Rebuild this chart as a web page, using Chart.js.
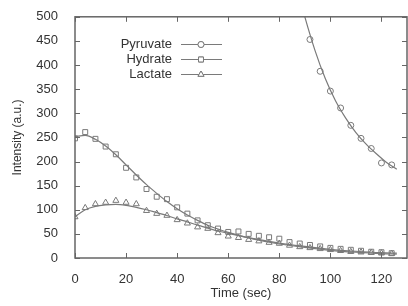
<!DOCTYPE html>
<html>
<head>
<meta charset="utf-8">
<script src="https://cdn.jsdelivr.net/npm/chart.js@4.4.1/dist/chart.umd.min.js"></script>
<style>
  html, body { margin: 0; padding: 0; background: #fff; overflow: hidden; }
  #wrap { width: 412px; height: 306px; position: relative; }
</style>
</head>
<body>
<div id="wrap"><canvas id="chart"></canvas></div>
<script>
// sample times (sec)
const times = [0, 4, 8, 12, 16, 20, 24, 28, 32, 36, 40, 44, 48, 52, 56, 60,
               64, 68, 72, 76, 80, 84, 88, 92, 96, 100, 104, 108, 112, 116, 120, 124];

// measured intensities
const hydrate = [248, 261, 247, 231, 215, 187, 167, 143, 127, 122, 105, 92, 78, 68, 61, 54,
                 55, 50, 46, 43, 40, 33, 30, 27, 24, 21, 19, 17, 15, 13, 12, 10];
const lactate = [85, 104, 112, 115, 119, 115, 112, 98, 92, 88, 79, 72, 64, 61, 52, 45,
                 42, 38, 35, 32, 30, 26, 23, 21, 19, 17, 15, 13, 12, 11, 10, 9];
const pyruvateTimes = [92, 96, 100, 104, 108, 112, 116, 120, 124];
const pyruvate = [453, 387, 346, 311, 275, 248, 227, 197, 193];

// fitted curves
const fitTimes = [0, 4, 8, 12, 16, 20, 24, 28, 32, 36, 40, 44, 48, 52, 56, 60,
                  70, 80, 90, 100, 110, 120, 126];
const hydrateFit = [252, 254, 246, 232, 214, 193, 172, 152, 134, 117, 102, 89, 78, 68, 60, 53,
                    39, 29, 22, 16, 12, 9, 8];
const lactateFit = [86, 100, 107, 110, 111, 109, 105, 100, 94, 88, 81, 75, 68, 62, 56, 51,
                    40, 31, 24, 18, 14, 11, 10];
const pyruvateFitTimes = [88, 90, 94, 98, 102, 106, 110, 114, 118, 122, 126];
const pyruvateFit = [540, 500, 430, 372, 326, 290, 260, 236, 216, 198, 184];

const yTicks = [0, 50, 100, 150, 200, 250, 300, 350, 400, 450, 500];
const xTicks = [0, 20, 40, 60, 80, 100, 120];

const seriesNames = ['Pyruvate', 'Hydrate', 'Lactate'];

const gray = '#7a7a7a';
const axisColor = '#666';
const textColor = '#333';
const fontFamily = '"Liberation Sans", Arial, Helvetica, sans-serif';

const pts = (xs, ys) => xs.map((x, i) => ({ x: x, y: ys[i] }));

// gnuplot-like frame with inward ticks on all four sides
const framePlugin = {
  id: 'frame',
  afterDatasetsDraw(chart) {
    const { ctx, chartArea: a, scales } = chart;
    ctx.save();
    ctx.strokeStyle = axisColor;
    ctx.lineWidth = 1;
    ctx.beginPath();
    xTicks.forEach(v => {
      const x = Math.round(scales.x.getPixelForValue(v)) + 0.5;
      ctx.moveTo(x, a.bottom); ctx.lineTo(x, a.bottom - 5);
      ctx.moveTo(x, a.top); ctx.lineTo(x, a.top + 5);
    });
    yTicks.forEach(v => {
      const y = Math.round(scales.y.getPixelForValue(v)) + 0.5;
      ctx.moveTo(a.left, y); ctx.lineTo(a.left + 5, y);
      ctx.moveTo(a.right, y); ctx.lineTo(a.right - 5, y);
    });
    ctx.stroke();
    ctx.lineWidth = 1.5;
    ctx.strokeRect(a.left, a.top, a.right - a.left, a.bottom - a.top);
    ctx.restore();
  }
};

// key in the top left: label, then line sample with marker
const keyPlugin = {
  id: 'key',
  afterDraw(chart) {
    const ctx = chart.ctx;
    ctx.save();
    ctx.font = '13px ' + fontFamily;
    ctx.fillStyle = textColor;
    ctx.textAlign = 'right';
    ctx.textBaseline = 'middle';
    const styles = ['circle', 'rect', 'triangle'];
    const radii = [3, 3.5, 3.5];
    seriesNames.forEach((name, i) => {
      const y = 44.5 + i * 15;
      ctx.fillText(name, 172, y);
      ctx.strokeStyle = gray;
      ctx.lineWidth = 1;
      ctx.beginPath();
      ctx.moveTo(181, y); ctx.lineTo(222, y);
      ctx.stroke();
      ctx.fillStyle = '#fff';
      Chart.helpers.drawPoint(ctx, {
        pointStyle: styles[i], radius: radii[i], borderWidth: 1, rotation: 0
      }, 201, y);
      ctx.fill();
      ctx.stroke();
      ctx.fillStyle = textColor;
    });
    ctx.restore();
  }
};

const markerSet = (label, data, style, r) => ({
  label: label,
  data: data,
  showLine: false,
  pointStyle: style,
  pointRadius: r,
  pointBorderWidth: 1,
  pointBorderColor: gray,
  pointBackgroundColor: 'rgba(255,255,255,0)',
  borderColor: gray
});

const fitSet = (data) => ({
  data: data,
  showLine: true,
  pointRadius: 0,
  borderColor: gray,
  borderWidth: 1.2,
  cubicInterpolationMode: 'monotone',
  fill: false
});

new Chart(document.getElementById('chart'), {
  type: 'scatter',
  data: {
    datasets: [
      fitSet(pts(pyruvateFitTimes, pyruvateFit)),
      fitSet(pts(fitTimes, hydrateFit)),
      fitSet(pts(fitTimes, lactateFit)),
      markerSet(seriesNames[0], pts(pyruvateTimes, pyruvate), 'circle', 3),
      markerSet(seriesNames[1], pts(times, hydrate), 'rect', 3.5),
      markerSet(seriesNames[2], pts(times, lactate), 'triangle', 3.5)
    ]
  },
  options: {
    responsive: true,
    maintainAspectRatio: false,
    animation: false,
    layout: { padding: { top: 14, right: 2, left: 0, bottom: 0 } },
    plugins: {
      legend: { display: false },
      tooltip: { enabled: false }
    },
    scales: {
      x: {
        type: 'linear',
        min: 0,
        max: 130,
        border: { display: false },
        grid: { display: false },
        afterBuildTicks: (s) => { s.ticks = xTicks.map(v => ({ value: v })); },
        afterFit: (s) => { s.height = 48; },
        ticks: {
          padding: 6,
          color: textColor,
          font: { family: fontFamily, size: 13 },
          maxRotation: 0
        },
        title: {
          display: true,
          text: 'Time (sec)',
          color: textColor,
          font: { family: fontFamily, size: 13 },
          padding: { top: 0, bottom: 5 }
        }
      },
      y: {
        type: 'linear',
        min: 0,
        max: 500,
        border: { display: false },
        grid: { display: false },
        afterBuildTicks: (s) => { s.ticks = yTicks.map(v => ({ value: v })); },
        afterFit: (s) => { s.width = 75; },
        ticks: {
          padding: 9,
          color: textColor,
          font: { family: fontFamily, size: 13 }
        },
        title: {
          display: true,
          text: 'Intensity (a.u.)',
          color: textColor,
          font: { family: fontFamily, size: 12 },
          padding: { top: 10, bottom: 0 }
        }
      }
    }
  },
  plugins: [framePlugin, keyPlugin]
});
</script>
</body>
</html>
